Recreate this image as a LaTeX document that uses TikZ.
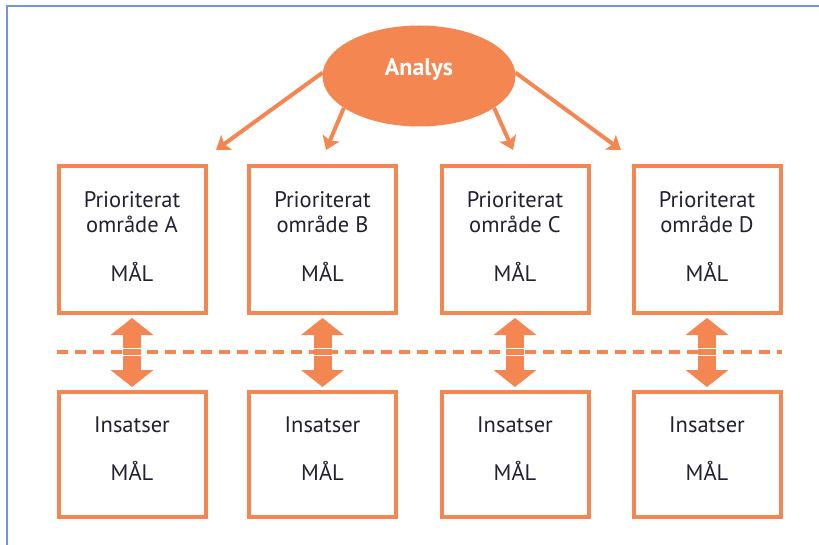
\documentclass[tikz,border=0pt]{standalone}
\usepackage{fontspec}
\setmainfont{PT Sans}
\newfontfamily\analysfont{PT Sans}
\usetikzlibrary{shapes.geometric,arrows.meta}
\definecolor{orng}{RGB}{244,134,82}
\definecolor{frameblue}{RGB}{112,152,210}
\definecolor{txt}{RGB}{35,32,48}
\tikzset{
  box/.style={draw=orng,line width=4pt,minimum width=147pt,inner sep=0pt,fill=white},
  topbox/.style={box,minimum height=147pt},
  botbox/.style={box,minimum height=125pt},
  lbl/.style={text=txt,font=\fontsize{22.5pt}{25pt}\selectfont,align=center,inner sep=0pt},
  fanarrow/.style={draw=orng,line width=4pt,-{Stealth[length=13pt,width=18pt,inset=3pt]}},
  dblarrow/.style={draw=orng,line width=18pt,{Triangle[length=17pt,width=42pt]}-{Triangle[length=17pt,width=42pt]},shorten <=3pt,shorten >=3pt},
}
\begin{document}
\begin{tikzpicture}[x=1pt,y=-1pt]
\useasboundingbox (0,0) rectangle (819,545);
% blue frame
\coordinate (fbl) at (7,550);
\coordinate (ftl) at (7,6);
\coordinate (ftr) at (830,6);
\draw[frameblue,line width=2.5pt] (fbl) -- (ftl) -- (ftr);

% ellipse
\node[ellipse,fill=orng,minimum width=193pt,minimum height=101pt,inner sep=0pt] (ell) at (419,76) {};
\node[text=white,font=\analysfont\bfseries\fontsize{24pt}{28pt}\selectfont,inner sep=0pt] (analys) at (419,70) {Analys};

% boxes
\foreach \n/\x/\l in {A/132/A,B/322.5/B,C/515/C,D/707/D}{
  \node[topbox] (t\n) at (\x,239.5) {};
  \node[botbox] (b\n) at (\x,454.5) {};
  \node[lbl] (tl\n) at (\x,237) {Prioriterat\\område \l\\[24pt]MÅL};
  \node[lbl] (bl\n) at (\x,449) {Insatser\\[23pt]MÅL};
}

% fan arrows
\coordinate (e1) at (216,150);
\coordinate (e2) at (326,150);
\coordinate (e3) at (513,150);
\coordinate (e4) at (621,150);
\draw[fanarrow] (ell.178) -- (e1);
\draw[fanarrow] (ell.203) -- (e2);
\draw[fanarrow] (ell.337) -- (e3);
\draw[fanarrow] (ell.2) -- (e4);

% double arrows
\foreach \n in {A,B,C,D}{
  \draw[dblarrow] (t\n.south) -- (b\n.north);
}

% dashed line
\coordinate (dl) at (57,352);
\coordinate (dr) at (782,352);
\draw[orng,line width=3.5pt,dash pattern=on 11pt off 7pt] (dl) -- (dr);
\foreach \n in {A,B,C,D}{
  \draw[white,line width=1pt] ([xshift=-9pt]t\n.south |- 0,348.5) -- ++(18,0);
  \draw[white,line width=1pt] ([xshift=-9pt]t\n.south |- 0,355.5) -- ++(18,0);
}
\end{tikzpicture}
\end{document}
